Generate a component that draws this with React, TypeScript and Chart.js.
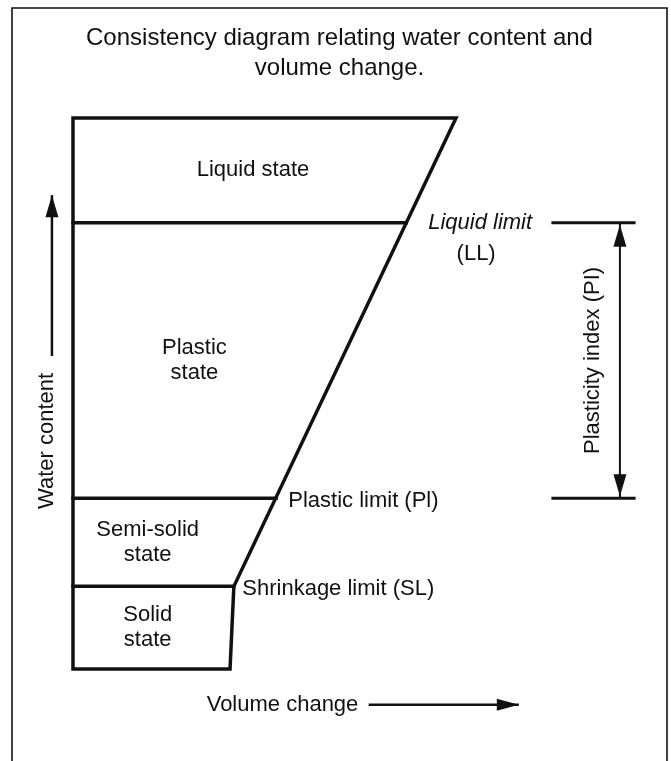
import React, { useEffect, useRef } from 'react';
import { Chart, registerables } from 'chart.js';

Chart.register(...registerables);

// ---- Diagram values (abstract units: volume 0–100, water content 0–100) ----
const titleLines = ['Consistency diagram relating water content and', 'volume change.'];
const stateNames = [['Solid', 'state'], ['Semi-solid', 'state'], ['Plastic', 'state'], ['Liquid state']];
const limitNames = ['Shrinkage limit (SL)', 'Plastic limit (Pl)', 'Liquid limit'];
const limitAbbrev = ['', '', '(LL)'];
const limitWater = [15, 31, 81]; // water content at SL, PL, LL
const limitVolume = [42, 53, 87]; // volume where each limit meets the sloping boundary
const solidVolume = 41; // volume of the solid state (bottom right corner)
const maxWater = 100;
const maxVolume = 100;
const axisNames = ['Volume change', 'Water content'];
const indexName = 'Plasticity index (PI)';

// ---- Layout (pixel anchors of the drawing) ----
const W = 671;
const H = 761;
const FONT = '"Liberation Sans", Arial, Helvetica, sans-serif';
const INK = '#111';
const PAD_LEFT = 8;
const PX_V0 = 73;
const PX_V100 = 456;
const PX_W0 = 669;
const PX_W100 = 118;
const pxPerV = (PX_V100 - PX_V0) / 100;
const pxPerW = (PX_W0 - PX_W100) / 100;
const X_MIN = -(PX_V0 - PAD_LEFT) / pxPerV;
const X_MAX = (W - PX_V0) / pxPerV;
const Y_MAX = 100;
const Y_MIN = -(H - PX_W0) / pxPerW;

// annotation placement (in diagram units)
const stateLabelVolume = [19.5, 19.5, 31.7, 47];
const limitLabelVolume = [44.2, 56.2, 106.3];
const bracketVolume = [125.3, 146.5];
const bracketArrowVolume = 142.8;
const indexLabelVolume = 135.8;
const waterArrowVolume = -5.5;
const waterArrowRange = [56.8, 86.0];
const waterLabelPos = [-6.8, 41.4];
const volumeArrowWater = -6.5;
const volumeArrowRange = [77.2, 116.4];
const volumeLabelVolume = 54.7;

const line = (data: { x: number; y: number }[], width: number) => ({
  data,
  showLine: true,
  borderColor: INK,
  borderWidth: width,
  pointRadius: 0,
  fill: false,
  clip: false as const,
  borderJoinStyle: 'miter' as const,
  borderCapStyle: 'square' as const,
  tension: 0,
});

function arrowHead(ctx: CanvasRenderingContext2D, tx: number, ty: number, dx: number, dy: number, len: number, half: number) {
  const bx = tx - dx * len;
  const by = ty - dy * len;
  ctx.beginPath();
  ctx.moveTo(tx, ty);
  ctx.lineTo(bx - dy * half, by + dx * half);
  ctx.lineTo(bx + dy * half, by - dx * half);
  ctx.closePath();
  ctx.fill();
}

const framePlugin = {
  id: 'frame',
  beforeDraw(chart: any) {
    const ctx = chart.ctx as CanvasRenderingContext2D;
    ctx.save();
    ctx.fillStyle = '#fff';
    ctx.fillRect(0, 0, chart.width, chart.height);
    ctx.strokeStyle = INK;
    ctx.lineWidth = 1.6;
    ctx.beginPath();
    ctx.moveTo(12, chart.height);
    ctx.lineTo(12, 8);
    ctx.lineTo(chart.width - 4, 8);
    ctx.lineTo(chart.width - 4, chart.height);
    ctx.stroke();
    ctx.restore();
  },
};

const labelPlugin = {
  id: 'labels',
  afterDatasetsDraw(chart: any) {
    const ctx = chart.ctx as CanvasRenderingContext2D;
    const xs = chart.scales.x;
    const ys = chart.scales.y;
    const X = (v: number) => xs.getPixelForValue(v);
    const Y = (w: number) => ys.getPixelForValue(w);
    ctx.save();
    ctx.fillStyle = INK;
    ctx.textBaseline = 'middle';
    ctx.font = `22px ${FONT}`;

    // state labels, centred between their boundaries
    const bounds = [0, ...limitWater, maxWater];
    stateNames.forEach((lines, i) => {
      const mid = (bounds[i] + bounds[i + 1]) / 2;
      ctx.textAlign = 'center';
      lines.forEach((t, k) => {
        ctx.fillText(t, X(stateLabelVolume[i]), Y(mid) + (k - (lines.length - 1) / 2) * 25);
      });
    });

    // limit labels
    limitNames.forEach((t, i) => {
      const y = Y(limitWater[i]);
      if (i === 2) {
        ctx.textAlign = 'center';
        ctx.font = `italic 22px ${FONT}`;
        ctx.fillText(t, X(limitLabelVolume[i]), y);
        ctx.font = `22px ${FONT}`;
        ctx.fillText(limitAbbrev[i], X(limitLabelVolume[i]) - 4, y + 31);
      } else {
        ctx.textAlign = 'left';
        ctx.fillText(t, X(limitLabelVolume[i]), y + 3);
      }
    });

    // bracket arrowheads
    const ax = X(bracketArrowVolume);
    arrowHead(ctx, ax, Y(limitWater[2]) + 2, 0, -1, 22, 6.5);
    arrowHead(ctx, ax, Y(limitWater[1]) - 2, 0, 1, 22, 6.5);

    // water content arrow head
    arrowHead(ctx, X(waterArrowVolume), Y(waterArrowRange[1]), 0, -1, 22, 6.5);
    // volume change arrow head
    arrowHead(ctx, X(volumeArrowRange[1]), Y(volumeArrowWater), 1, 0, 22, 6);

    // plasticity index label (rotated)
    ctx.save();
    ctx.translate(X(indexLabelVolume), Y((limitWater[1] + limitWater[2]) / 2));
    ctx.rotate(-Math.PI / 2);
    ctx.textAlign = 'center';
    ctx.fillText(indexName, 0, 0);
    ctx.restore();

    // water content label (rotated)
    ctx.save();
    ctx.translate(X(waterLabelPos[0]), Y(waterLabelPos[1]));
    ctx.rotate(-Math.PI / 2);
    ctx.textAlign = 'center';
    ctx.fillText(axisNames[1], 0, 0);
    ctx.restore();

    // volume change label
    ctx.textAlign = 'center';
    ctx.fillText(axisNames[0], X(volumeLabelVolume), Y(volumeArrowWater));
    ctx.restore();
  },
};

export default function App() {
  const ref = useRef<HTMLCanvasElement | null>(null);
  useEffect(() => {
    if (!ref.current) return;
    const outline = [
      { x: 0, y: 0 },
      { x: 0, y: maxWater },
      { x: maxVolume, y: maxWater },
      { x: limitVolume[0], y: limitWater[0] },
      { x: solidVolume, y: 0 },
      { x: 0, y: 0 },
    ];
    const datasets: any[] = [line(outline, 3.5)];
    limitWater.forEach((w, i) => {
      datasets.push(line([{ x: 0, y: w }, { x: limitVolume[i], y: w }], 3.5));
    });
    [limitWater[2], limitWater[1]].forEach((w) => {
      datasets.push(line([{ x: bracketVolume[0], y: w }, { x: bracketVolume[1], y: w }], 3));
    });
    datasets.push({
      ...line([{ x: bracketArrowVolume, y: limitWater[1] }, { x: bracketArrowVolume, y: limitWater[2] }], 2),
      borderCapStyle: 'butt',
    });
    datasets.push({
      ...line(waterArrowRange.map((w) => ({ x: waterArrowVolume, y: w })), 2.5),
      borderCapStyle: 'butt',
    });
    datasets.push({
      ...line(volumeArrowRange.map((v) => ({ x: v, y: volumeArrowWater })), 2.5),
      borderCapStyle: 'butt',
    });

    const chart = new Chart(ref.current, {
      type: 'scatter',
      data: { datasets },
      options: {
        animation: false,
        responsive: false,
        devicePixelRatio: 1,
        events: [],
        layout: { padding: { left: PAD_LEFT, right: 0, top: 0, bottom: 0 } },
        scales: {
          x: { type: 'linear', display: false, min: X_MIN, max: X_MAX },
          y: { type: 'linear', display: false, min: Y_MIN, max: Y_MAX },
        },
        plugins: {
          legend: { display: false },
          tooltip: { enabled: false },
          title: {
            display: true,
            text: titleLines,
            color: INK,
            font: { family: FONT, size: 24, weight: 'normal', lineHeight: 1.25 },
            padding: { top: 23, bottom: 35 },
          },
        },
      },
      plugins: [framePlugin, labelPlugin],
    } as any);
    return () => chart.destroy();
  }, []);

  return (
    <div style={{ position: 'fixed', left: 0, top: 0, width: W, height: H, background: '#fff' }}>
      <canvas ref={ref} width={W} height={H} style={{ display: 'block', width: W, height: H }} />
    </div>
  );
}
